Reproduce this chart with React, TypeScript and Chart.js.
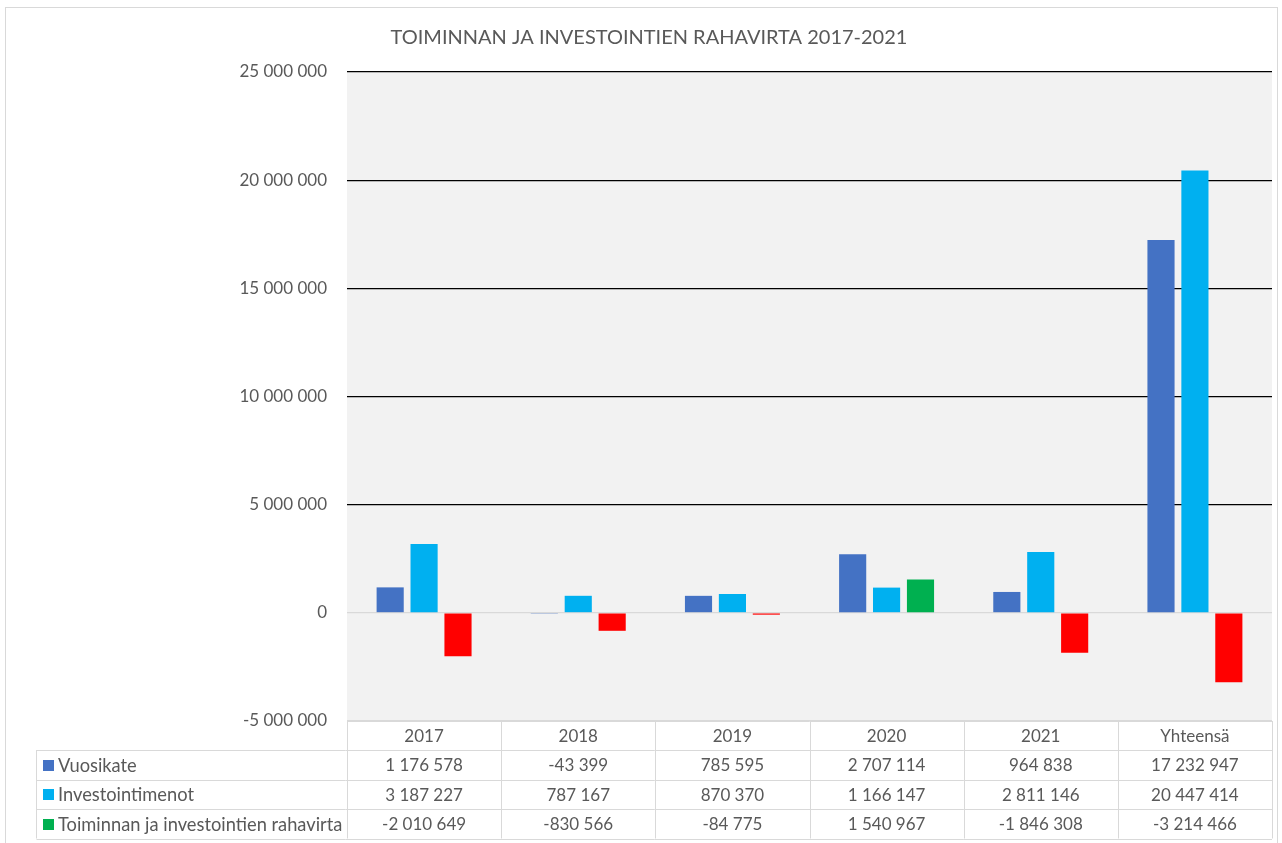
import React, { useEffect, useRef } from "react";
import { Chart, registerables } from "chart.js";
Chart.register(...registerables);

const title = "TOIMINNAN JA INVESTOINTIEN RAHAVIRTA 2017-2021";
const categories = ["2017", "2018", "2019", "2020", "2021", "Yhteensä"];
const seriesNames = ["Vuosikate", "Investointimenot", "Toiminnan ja investointien rahavirta"];
const vuosikate = [1176578, -43399, 785595, 2707114, 964838, 17232947];
const investointimenot = [3187227, 787167, 870370, 1166147, 2811146, 20447414];
const rahavirta = [-2010649, -830566, -84775, 1540967, -1846308, -3214466];
const yMin = -5000000;
const yMax = 25000000;
const yStep = 5000000;

const COL_V = "#4472C4";
const COL_I = "#00B0F0";
const COL_POS = "#00B050";
const COL_NEG = "#FF0000";
const TXT = "#595959";
const FONT = "Lato";

const fmt = (v: number) => {
  const s = Math.abs(Math.round(v)).toString().replace(/\B(?=(\d{3})+(?!\d))/g, " ");
  return (v < 0 ? "-" : "") + s;
};

const W = 1282;
const H = 843;

const decorPlugin = {
  id: "decor",
  beforeDraw(chart: any) {
    const { ctx, chartArea } = chart;
    ctx.save();
    ctx.fillStyle = "#FFFFFF";
    ctx.fillRect(0, 0, W, H);
    ctx.fillStyle = "#F2F2F2";
    ctx.fillRect(chartArea.left, chartArea.top, chartArea.right - chartArea.left, chartArea.bottom - chartArea.top);
    ctx.restore();
  },
  afterDraw(chart: any) {
    const { ctx, chartArea, scales } = chart;
    const xs = scales.x;
    ctx.save();
    // outer border
    ctx.strokeStyle = "#D9D9D9";
    ctx.lineWidth = 1;
    ctx.strokeRect(5.5, 7.5, 1272, 860);
    // title
    ctx.fillStyle = TXT;
    ctx.font = `20px ${FONT}`;
    ctx.textAlign = "center";
    ctx.textBaseline = "middle";
    ctx.fillText(title, 649, 38);

    // table
    const left = chartArea.left;
    const right = chartArea.right;
    const n = categories.length;
    const cw = (right - left) / n;
    const tableLeft = 36.5;
    const b = chartArea.bottom;
    const rowsY = [b, b + 29, b + 58.5, b + 88, b + 117.5];
    ctx.strokeStyle = "#D9D9D9";
    ctx.lineWidth = 1;
    ctx.beginPath();
    ctx.moveTo(left, Math.round(rowsY[0]) + 0.5);
    ctx.lineTo(right, Math.round(rowsY[0]) + 0.5);
    for (let r = 1; r < rowsY.length; r++) {
      const y = Math.round(rowsY[r]) + 0.5;
      ctx.moveTo(tableLeft, y);
      ctx.lineTo(right, y);
    }
    for (let c = 0; c <= n; c++) {
      const x = Math.round(left + c * cw) + 0.5;
      ctx.moveTo(x, rowsY[0]);
      ctx.lineTo(x, rowsY[4]);
    }
    ctx.moveTo(tableLeft, rowsY[1]);
    ctx.lineTo(tableLeft, rowsY[4]);
    ctx.stroke();

    ctx.font = `17px ${FONT}`;
    ctx.fillStyle = TXT;
    ctx.textBaseline = "middle";
    ctx.textAlign = "center";
    for (let c = 0; c < n; c++) {
      const cx = xs.getPixelForValue(c);
      ctx.fillText(categories[c], cx, (rowsY[0] + rowsY[1]) / 2 + 1);
    }
    const series = [vuosikate, investointimenot, rahavirta];
    const keyColors = [COL_V, COL_I, COL_POS];
    for (let r = 0; r < 3; r++) {
      const cy = (rowsY[r + 1] + rowsY[r + 2]) / 2 + 1;
      ctx.fillStyle = keyColors[r];
      ctx.fillRect(43, Math.round(cy - 6), 11, 11);
      ctx.fillStyle = TXT;
      ctx.textAlign = "left";
      ctx.font = `18.3px ${FONT}`;
      ctx.fillText(seriesNames[r], 58, cy);
      ctx.textAlign = "center";
      ctx.font = `17px ${FONT}`;
      for (let c = 0; c < n; c++) {
        ctx.fillText(fmt(series[r][c]), xs.getPixelForValue(c), cy);
      }
    }
    ctx.restore();
  },
};

export default function App() {
  const ref = useRef<HTMLCanvasElement | null>(null);
  useEffect(() => {
    if (!ref.current) return;
    const chart = new Chart(ref.current, {
      type: "bar",
      data: {
        labels: categories,
        datasets: [
          { label: seriesNames[0], data: vuosikate, backgroundColor: COL_V },
          { label: seriesNames[1], data: investointimenot, backgroundColor: COL_I },
          {
            label: seriesNames[2],
            data: rahavirta,
            backgroundColor: rahavirta.map((v) => (v < 0 ? COL_NEG : COL_POS)),
          },
        ],
      },
      options: {
        responsive: false,
        animation: false,
        layout: { padding: { top: 72, bottom: 122, left: 0, right: 10 } },
        datasets: { bar: { categoryPercentage: 0.66, barPercentage: 0.8 } },
        plugins: { legend: { display: false }, tooltip: { enabled: false }, title: { display: false } },
        scales: {
          x: { display: false },
          y: {
            min: yMin,
            max: yMax,
            border: { display: false },
            afterFit: (s: any) => {
              s.width = 347;
            },
            ticks: {
              stepSize: yStep,
              color: TXT,
              font: { family: FONT, size: 17 },
              padding: 20,
              callback: (v: any) => fmt(Number(v)),
            },
            grid: {
              drawTicks: false,
              lineWidth: 1.3,
              color: (c: any) => (c.tick && (c.tick.value === 0 || c.tick.value === yMin) ? "#D9D9D9" : "#000000"),
            },
          },
        },
      },
      plugins: [decorPlugin],
    });
    return () => chart.destroy();
  }, []);
  return (
    <div style={{ position: "absolute", left: 0, top: 0, width: W, height: H, background: "#fff" }}>
      <canvas ref={ref} width={W} height={H} style={{ display: "block", width: W, height: H }} />
    </div>
  );
}
